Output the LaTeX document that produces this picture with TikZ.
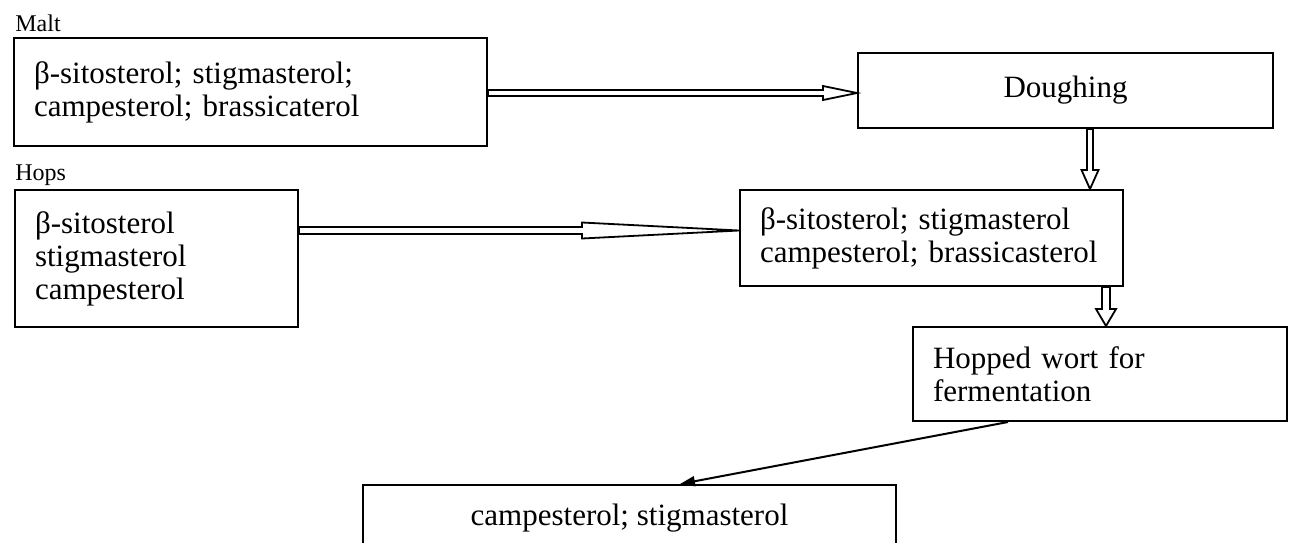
\documentclass[tikz,border=0pt]{standalone}
\usepackage{fontspec}
\setmainfont{Liberation Serif}
\usetikzlibrary{calc,arrows.meta}

\newcommand{\boxfont}{\fontsize{15.5}{16.5}\selectfont}
\newcommand{\labfont}{\fontsize{12}{13}\selectfont}

% hollow arrows: start, end, head length, shaft half width, head half width
\newcommand{\hhollow}[5]{%
  \draw[line width=0.9pt, fill=white] let \p1=(#1), \p2=(#2) in
    (\x1,{\y1+#4}) -- ({\x2-#3},{\y1+#4}) -- ({\x2-#3},{\y1+#5}) -- (\x2,\y1)
    -- ({\x2-#3},{\y1-#5}) -- ({\x2-#3},{\y1-#4}) -- (\x1,{\y1-#4}) -- cycle;}
\newcommand{\vhollow}[5]{%
  \draw[line width=0.9pt, fill=white] let \p1=(#1), \p2=(#2) in
    ({\x1+#4},\y1) -- ({\x1+#4},{\y2+#3}) -- ({\x1+#5},{\y2+#3}) -- (\x1,\y2)
    -- ({\x1-#5},{\y2+#3}) -- ({\x1-#4},{\y2+#3}) -- ({\x1-#4},\y1) -- cycle;}

\tikzset{
  sbox/.style={draw, line width=1pt, rectangle, inner xsep=10pt, inner ysep=0pt,
    align=left, font=\boxfont},
  cbox/.style={draw, line width=1pt, rectangle, inner sep=0pt, align=center, font=\boxfont},
  lab/.style={anchor=base west, inner sep=0pt, font=\labfont}
}

\begin{document}
\begin{tikzpicture}[x=0.5pt, y=-0.5pt]

    \clip (0,0) rectangle (1293,542);

    \draw(15,31) node[lab] (maltlab) {Malt};
    \draw(15,180) node[lab] (hopslab) {Hops};

    \draw(250.5,92) node[sbox, minimum width=236.5pt, minimum height=54pt, text width=216.5pt] (malt)
        {β-sitosterol; stigmasterol;\\campesterol; brassicaterol};
    \draw(1065.5,90.5) node[cbox, minimum width=207.5pt, minimum height=37.5pt] (dough) {Doughing};
    \draw(156.5,258.5) node[sbox, minimum width=141.5pt, minimum height=68.5pt, text width=121.5pt] (hops)
        {β-sitosterol\\stigmasterol\\campesterol};
    \draw(931.5,238) node[sbox, minimum width=191.5pt, minimum height=48pt, text width=171.5pt] (mix)
        {β-sitosterol; stigmasterol\\campesterol; brassicasterol};
    \draw(1100,374) node[sbox, minimum width=187pt, minimum height=47pt, text width=167pt] (wort)
        {Hopped wort for\\fermentation};
    \draw(629.5,518) node[cbox, minimum width=266.5pt, minimum height=33pt] (beer)
        {campesterol; stigmasterol};

    \hhollow{malt.east |- 0,93}{dough.west |- 0,93}{17pt}{1.5pt}{3.5pt}
    \hhollow{hops.east |- 0,230.5}{mix.west |- 0,230.5}{78.5pt}{1.75pt}{4pt}
    \vhollow{1090,0 |- dough.south}{1090,0 |- mix.north}{9.5pt}{1.5pt}{4.25pt}
    \vhollow{1106,0 |- mix.south}{1106,0 |- wort.north}{8.5pt}{2pt}{5pt}

    \draw[line width=1pt, -{Triangle[length=7.5pt, width=5pt]}] (1008,0 |- wort.south) to (680,0 |- beer.north);

    \end{tikzpicture}
\end{document}
